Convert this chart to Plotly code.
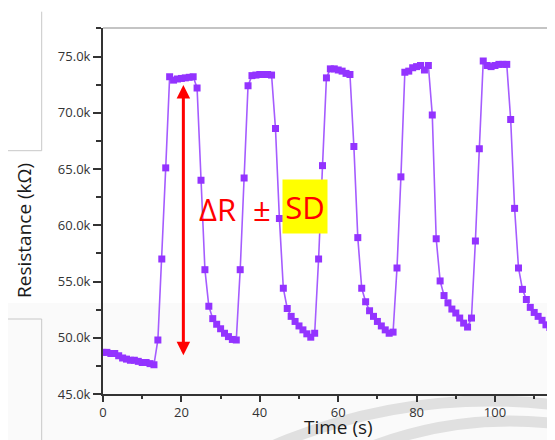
import plotly.graph_objects as go

# ---------------- data ----------------
time_s = [
    0, 1, 2, 3, 4, 5, 6, 7, 8, 9, 10, 11, 12, 13,
    14, 15, 16, 17, 18, 19, 20, 21, 22, 23,
    24, 25, 26, 27, 28, 29, 30, 31, 32, 33, 34,
    35, 36, 37, 38, 39, 40, 41, 42, 43,
    44, 45, 46, 47, 48, 49, 50, 51, 52, 53, 54,
    55, 56, 57, 58, 59, 60, 61, 62, 63,
    64, 65, 66, 67, 68, 69, 70, 71, 72, 73, 74,
    75, 76, 77, 78, 79, 80, 81, 82, 83,
    84, 85, 86, 87, 88, 89, 90, 91, 92, 93, 94,
    95, 96, 97, 98, 99, 100, 101, 102, 103,
    104, 105, 106, 107, 108, 109, 110, 111, 112, 113, 114, 115,
]
resistance_kohm = [
    48.7, 48.7, 48.6, 48.6, 48.4, 48.2, 48.1, 48.0, 48.0, 47.9, 47.8, 47.8, 47.7, 47.6,
    49.8, 57.0, 65.1, 73.2, 72.9, 73.0, 73.05, 73.1, 73.15, 73.2,
    72.2, 64.0, 56.05, 52.8, 51.7, 51.2, 50.8, 50.4, 50.1, 49.85, 49.8,
    56.05, 64.2, 72.4, 73.3, 73.35, 73.4, 73.4, 73.4, 73.35,
    68.6, 60.6, 54.4, 52.6, 51.9, 51.45, 51.05, 50.7, 50.35, 50.05, 50.4,
    57.0, 65.3, 73.1, 73.9, 73.9, 73.8, 73.7, 73.5, 73.4,
    67.0, 58.9, 54.4, 53.2, 52.4, 51.9, 51.45, 51.05, 50.7, 50.4, 50.5,
    56.2, 64.3, 73.6, 73.7, 74.0, 74.1, 74.2, 73.8, 74.2,
    69.8, 58.8, 55.05, 53.75, 53.1, 52.55, 52.2, 51.75, 51.3, 50.95, 51.75,
    58.6, 66.8, 74.6, 74.2, 74.1, 74.2, 74.3, 74.3, 74.3,
    69.4, 61.5, 56.2, 54.3, 53.4, 52.7, 52.25, 51.9, 51.55, 51.15, 50.9, 50.7,
]
resistance_ohm = [v * 1000 for v in resistance_kohm]

# double arrow marking the response amplitude
arrow_time = 20.5
arrow_top_ohm = 72470
arrow_bottom_ohm = 48320

x_title = "Time (s)"
y_title = "Resistance (kΩ)"

# ---------------- layout geometry ----------------
# the page body has an 8px margin, so the figure starts at (8, 8) in the window
OFF = 8
W, H = 547, 432
ML, MR, MT, MB = 95, 0, 20, 46
PW = W - ML - MR
PH = H - MT - MB


def px(x_screen):
    return (x_screen - OFF - ML) / PW


def py(y_screen):
    return (H - MB - (y_screen - OFF)) / PH


fig = go.Figure()
fig.add_trace(go.Scatter(
    x=time_s, y=resistance_ohm, mode="lines+markers",
    line=dict(color="#A55CFF", width=1.6),
    marker=dict(symbol="square", size=7, color="#9333FF"),
    showlegend=False, hoverinfo="skip",
))

tick_font = dict(family="Open Sans", size=13, color="#333333")

fig.update_xaxes(
    range=[0, PW / 3.92], tick0=0, dtick=20,
    ticks="outside", ticklen=6, tickwidth=1.5, tickcolor="#333333",
    minor=dict(dtick=10, ticks="outside", ticklen=3.5, tickwidth=1.5, tickcolor="#333333"),
    showline=True, linecolor="#333333", linewidth=1.6,
    showgrid=False, zeroline=False, tickfont=tick_font,
)
fig.update_yaxes(
    range=[45000, 45000 + PH / 11.25 * 1000], tick0=45000, dtick=5000,
    tickformat=".3s",
    ticks="outside", ticklen=8, tickwidth=2, tickcolor="#333333",
    minor=dict(dtick=2500, ticks="outside", ticklen=5, tickwidth=2, tickcolor="#333333"),
    showline=True, linecolor="#333333", linewidth=2,
    showgrid=False, zeroline=False, tickfont=tick_font,
)

shapes = [
    # faint grey lower band of the screenshot
    dict(type="rect", xref="paper", yref="paper", layer="below",
         x0=px(-5), x1=px(W + 30), y0=py(H + 30), y1=py(303),
         fillcolor="#fafafa", line=dict(width=0)),
    # watermark arcs
    dict(type="circle", xref="paper", yref="paper", layer="below",
         x0=px(490 - 547.8), x1=px(490 + 547.8), y0=py(948.8 + 547.8), y1=py(948.8 - 547.8),
         line=dict(color="#e0e0e0", width=11)),
    dict(type="circle", xref="paper", yref="paper", layer="below",
         x0=px(510 - 388.4), x1=px(510 + 388.4), y0=py(809.4 + 388.4), y1=py(809.4 - 388.4),
         line=dict(color="#e0e0e0", width=11)),
    # top frame line
    dict(type="line", xref="paper", yref="paper", x0=0, x1=1, y0=1, y1=1,
         line=dict(color="#8a8a8a", width=1.2)),
    # left decoration lines
    dict(type="line", xref="paper", yref="paper", x0=px(41.7), x1=px(41.7), y0=py(11.7), y1=py(150.7),
         line=dict(color="#c8c8c8", width=1)),
    dict(type="line", xref="paper", yref="paper", x0=px(4), x1=px(41.7), y0=py(150.7), y1=py(150.7),
         line=dict(color="#c8c8c8", width=1)),
    dict(type="line", xref="paper", yref="paper", x0=px(4), x1=px(41.7), y0=py(319), y1=py(319),
         line=dict(color="#c8c8c8", width=1)),
    dict(type="line", xref="paper", yref="paper", x0=px(41.7), x1=px(41.7), y0=py(319), y1=py(445),
         line=dict(color="#c8c8c8", width=1)),
]

red_font = dict(family="Open Sans", size=31, color="#ff0000")
annotations = [
    # double-headed red arrow
    dict(x=arrow_time, y=arrow_top_ohm, ax=arrow_time, ay=arrow_bottom_ohm,
         xref="x", yref="y", axref="x", ayref="y", text="",
         showarrow=True, arrowhead=2, startarrowhead=2, arrowside="end+start",
         arrowwidth=3, arrowsize=0.9, startarrowsize=0.9, arrowcolor="#ff0000",
         standoff=0, startstandoff=0),
    dict(x=px(217), y=py(209), xref="paper", yref="paper", text="ΔR",
         xanchor="center", yanchor="middle", showarrow=False, font=red_font),
    dict(x=px(262), y=py(209), xref="paper", yref="paper", text="±",
         xanchor="center", yanchor="middle", showarrow=False, font=red_font),
    dict(x=px(305), y=py(206.5), xref="paper", yref="paper", text="SD",
         xanchor="center", yanchor="middle",
         showarrow=False, bgcolor="#ffff00", width=44, height=53, borderpad=0,
         font=red_font),
    # axis titles
    dict(x=px(338), y=py(426.5), xref="paper", yref="paper", text=x_title,
         xanchor="center", yanchor="middle",
         showarrow=False, font=dict(family="Open Sans", size=19, color="#1a1a1a")),
    dict(x=px(24), y=py(231), xref="paper", yref="paper", text=y_title, textangle=-90,
         xanchor="center", yanchor="middle",
         showarrow=False, font=dict(family="Open Sans", size=19, color="#1a1a1a")),
]

fig.update_layout(
    width=W, height=H,
    margin=dict(l=ML, r=MR, t=MT, b=MB, autoexpand=False),
    paper_bgcolor="#ffffff", plot_bgcolor="rgba(0,0,0,0)",
    shapes=shapes, annotations=annotations,
    showlegend=False,
)

fig.write_html("out.html")
